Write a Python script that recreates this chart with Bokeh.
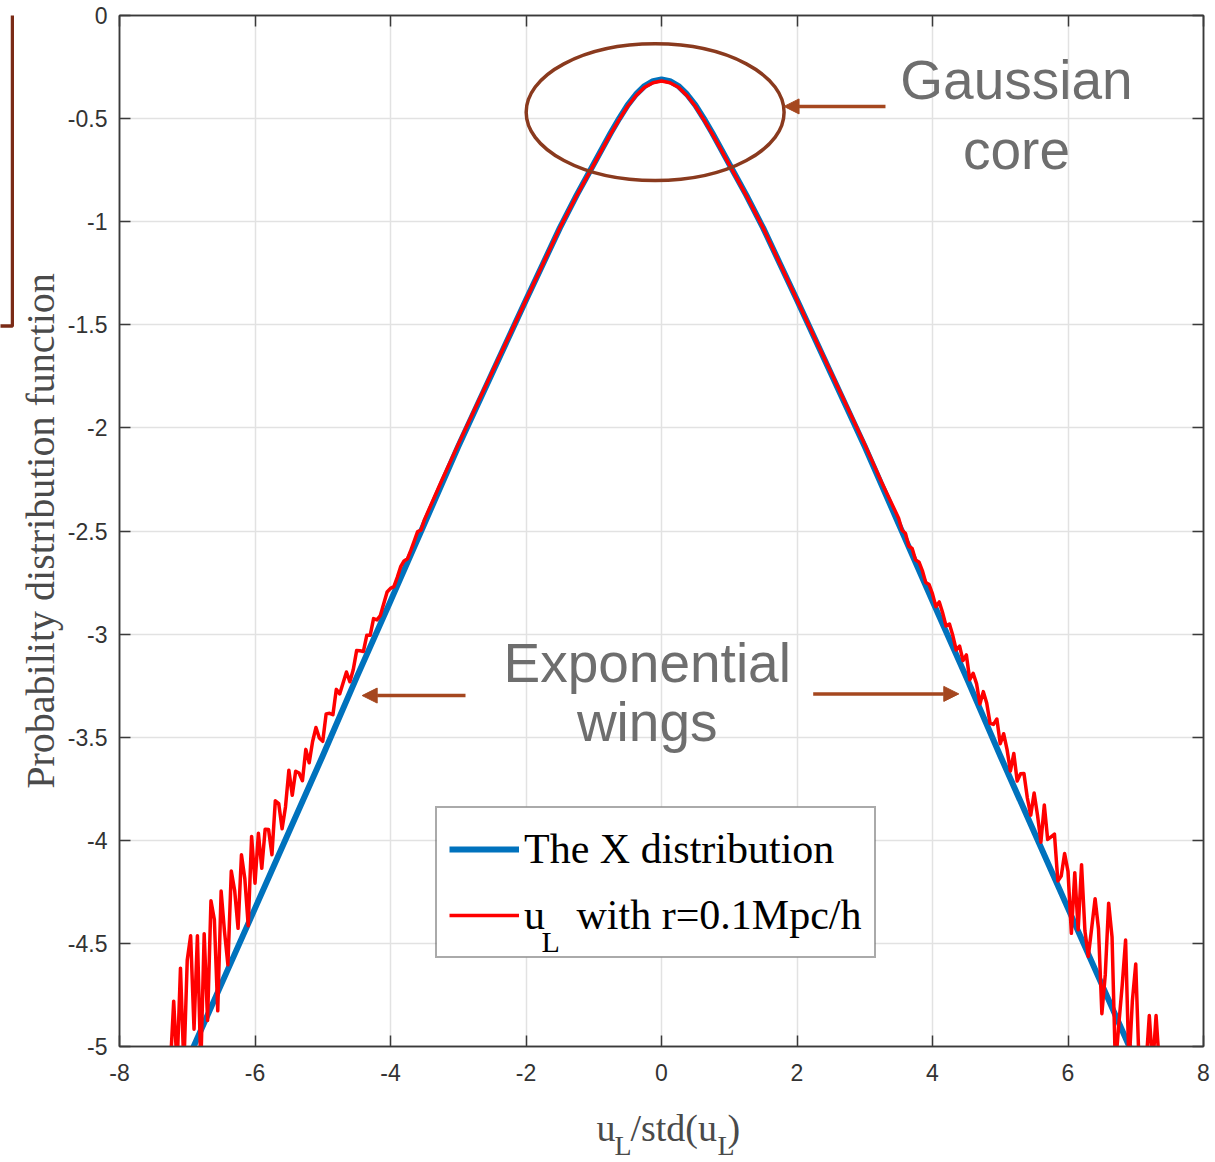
from bokeh.plotting import figure
from bokeh.layouts import column, row
from bokeh.models import (FixedTicker, LinearAxis, Legend, LegendItem, Label,
                          Arrow, NormalHead, CustomJSTickFormatter, Range1d, BoxAnnotation)
from bokeh.core.properties import value
from bokeh.embed import file_html
from bokeh.resources import INLINE

# ---------------- data ----------------
x_ticks = [-8, -6, -4, -2, 0, 2, 4, 6, 8]
y_ticks = [-5, -4.5, -4, -3.5, -3, -2.5, -2, -1.5, -1, -0.5, 0]

# The X distribution (log10 pdf)
blue_x = [-7.0, -6.5, -6.0, -5.5, -5.0, -4.5, -4.0, -3.5, -3.0, -2.5, -2.0, -1.75, -1.5,
          -1.25, -1.0, -0.875, -0.75, -0.625, -0.5, -0.375, -0.25, -0.125, 0.0,
          0.125, 0.25, 0.375, 0.5, 0.625, 0.75, 0.875, 1.0, 1.25, 1.5, 1.75, 2.0,
          2.5, 3.0, 3.5, 4.0, 4.5, 5.0, 5.5, 6.0, 6.5, 7.0]
blue_y = [-5.07, -4.70, -4.33, -3.96, -3.59, -3.21, -2.84, -2.465, -2.09, -1.735, -1.38, -1.205, -1.03,
          -0.87, -0.72, -0.645, -0.57, -0.50, -0.435, -0.382, -0.342, -0.318, -0.31,
          -0.318, -0.342, -0.382, -0.435, -0.50, -0.57, -0.645, -0.72, -0.87, -1.03, -1.205, -1.38,
          -1.735, -2.09, -2.465, -2.84, -3.21, -3.59, -3.96, -4.33, -4.70, -5.07]

# u_L with r = 0.1 Mpc/h (log10 pdf, noisy wings)
red_left_x = [-7.25, -7.2, -7.15, -7.1, -7.05, -7.0, -6.95, -6.9, -6.85, -6.8,
              -6.75, -6.7, -6.65, -6.6, -6.55, -6.5, -6.45, -6.4, -6.35, -6.3,
              -6.25, -6.2, -6.15, -6.1, -6.05, -6.0, -5.95, -5.9, -5.85, -5.8,
              -5.75, -5.7, -5.65, -5.6, -5.55, -5.5, -5.45, -5.4, -5.35, -5.3,
              -5.25, -5.2, -5.15, -5.1, -5.05, -5.0, -4.95, -4.9, -4.85, -4.8,
              -4.75, -4.7, -4.65, -4.6, -4.55, -4.5, -4.45, -4.4, -4.35, -4.3,
              -4.25, -4.2, -4.15, -4.1, -4.05, -4.0, -3.95, -3.9, -3.85, -3.8,
              -3.75, -3.7, -3.65, -3.6, -3.55, -3.5]
red_left_y = [-5.10, -4.78, -5.10, -4.62, -5.10, -4.58, -4.463, -4.916, -4.463, -5.10,
              -4.453, -4.874, -4.293, -4.384, -4.827, -4.246, -4.443, -4.604, -4.149, -4.244,
              -4.427, -4.07, -4.187, -4.414, -3.981, -4.208, -3.966, -4.136, -3.946, -3.948,
              -4.07, -3.808, -3.822, -3.944, -3.838, -3.66, -3.782, -3.665, -3.674, -3.711,
              -3.559, -3.624, -3.521, -3.453, -3.504, -3.52, -3.387, -3.384, -3.391, -3.268,
              -3.29, -3.237, -3.184, -3.231, -3.173, -3.08, -3.081, -3.084, -3.006, -3.006,
              -2.925, -2.931, -2.910, -2.853, -2.796, -2.778, -2.770, -2.725, -2.673, -2.645,
              -2.635, -2.594, -2.549, -2.503, -2.496, -2.446]
red_core_x = [-3.25, -3.0, -2.75, -2.5, -2.25, -2.0, -1.75, -1.5, -1.25, -1.0, -0.875, -0.75,
              -0.625, -0.5, -0.375, -0.25, -0.125, 0.0, 0.125, 0.25, 0.375, 0.5, 0.625,
              0.75, 0.875, 1.0, 1.25, 1.5, 1.75, 2.0, 2.25, 2.5, 2.75, 3.0, 3.25]
red_core_y = [-2.26, -2.08, -1.905, -1.73, -1.555, -1.38, -1.205, -1.03, -0.872, -0.723, -0.648, -0.574,
              -0.505, -0.44, -0.388, -0.348, -0.326, -0.318, -0.326, -0.348, -0.388, -0.44, -0.505,
              -0.574, -0.648, -0.723, -0.872, -1.03, -1.205, -1.38, -1.555, -1.73, -1.905, -2.08, -2.265]
red_right_x = [3.5, 3.55, 3.6, 3.65, 3.7, 3.75, 3.8, 3.85, 3.9, 3.95,
               4.0, 4.05, 4.1, 4.15, 4.2, 4.25, 4.3, 4.35, 4.4, 4.45,
               4.5, 4.55, 4.6, 4.65, 4.7, 4.75, 4.8, 4.85, 4.9, 4.95,
               5.0, 5.05, 5.1, 5.15, 5.2, 5.25, 5.3, 5.35, 5.4, 5.45,
               5.5, 5.55, 5.6, 5.65, 5.7, 5.75, 5.8, 5.85, 5.9, 5.95,
               6.0, 6.05, 6.1, 6.15, 6.2, 6.25, 6.3, 6.35, 6.4, 6.45,
               6.5, 6.55, 6.6, 6.65, 6.7, 6.75, 6.8, 6.85, 6.9, 6.95,
               7.0, 7.05, 7.1, 7.15, 7.2, 7.25, 7.3, 7.35]
red_right_y = [-2.438, -2.496, -2.511, -2.574, -2.585, -2.641, -2.650, -2.692, -2.750, -2.760,
               -2.805, -2.867, -2.844, -2.897, -2.961, -2.951, -3.007, -3.077, -3.058, -3.128,
               -3.101, -3.221, -3.190, -3.240, -3.339, -3.279, -3.334, -3.433, -3.438, -3.412,
               -3.532, -3.483, -3.559, -3.664, -3.579, -3.712, -3.677, -3.676, -3.795, -3.878,
               -3.771, -3.878, -4.009, -3.829, -3.996, -3.983, -3.970, -4.197, -4.173, -4.064,
               -4.151, -4.451, -4.157, -4.434, -4.118, -4.440, -4.564, -4.424, -4.283, -4.429,
               -4.841, -4.653, -4.305, -4.468, -5.10, -4.892, -4.704, -4.484, -5.10, -4.779,
               -4.60, -5.10, -5.10, -5.10, -4.85, -5.10, -4.85, -5.10]

red_x = red_left_x + red_core_x + red_right_x
red_y = red_left_y + red_core_y + red_right_y

series_labels = ["The X distribution", "u\u00a0\u00a0\u00a0with r=0.1Mpc/h"]

# annotation geometry (data units)
ellipse_center = (-0.094, -0.469)
ellipse_size = (3.807, 0.663)
arrows = [(3.306, -0.441, 1.809, -0.441),
          (-2.893, -3.298, -4.418, -3.298),
          (2.239, -3.290, 4.388, -3.290)]
notes = [("Gaussian", 5.24, -0.315), ("core", 5.24, -0.650),
         ("Exponential", -0.211, -3.138), ("wings", -0.211, -3.424)]
legend_box = dict(left=-3.32, right=3.15, top=-3.836, bottom=-4.568)

BROWN = "#8a3a1e"
ARROW = "#a5471f"
AX = "#3a3a3a"
MAIN_H = 1092

# ---------------- main plot ----------------
p = figure(width=1201, height=MAIN_H, x_range=(-8, 8), y_range=(-5, 0),
           output_backend="svg", toolbar_location=None,
           min_border_left=105, min_border_right=12, min_border_top=15,
           min_border_bottom=MAIN_H - 1046, background_fill_color="white",
           border_fill_color="white")
p.outline_line_color = AX
p.outline_line_width = 1.5

fmt = CustomJSTickFormatter(code="return String(Math.round(tick*10)/10);")


def style_axis(ax, labels=True):
    ax.axis_line_color = AX
    ax.axis_line_width = 1.5
    ax.major_tick_line_color = AX
    ax.major_tick_line_width = 1.5
    ax.major_tick_in = 11
    ax.major_tick_out = 0
    ax.minor_tick_line_color = None
    if labels:
        ax.formatter = fmt
        ax.major_label_text_font = "Liberation Sans"
        ax.major_label_text_font_size = "23px"
        ax.major_label_text_color = "#333333"
    else:
        ax.major_label_text_font_size = "0px"
        ax.major_label_text_color = None
        ax.major_label_standoff = 0


xa = p.xaxis[0]
xa.ticker = FixedTicker(ticks=x_ticks)
style_axis(xa)
xa.major_label_standoff = 17

ya = p.yaxis[0]
ya.ticker = FixedTicker(ticks=y_ticks)
style_axis(ya)
ya.major_label_standoff = 12
ya.axis_label = "Probability distribution function"
ya.axis_label_text_font = "Liberation Serif"
ya.axis_label_text_font_size = "40px"
ya.axis_label_text_font_style = "normal"
ya.axis_label_text_color = "#4a4a4a"
ya.axis_label_standoff = 2

top = LinearAxis(ticker=FixedTicker(ticks=x_ticks))
style_axis(top, labels=False)
p.add_layout(top, "above")
right = LinearAxis(ticker=FixedTicker(ticks=y_ticks))
style_axis(right, labels=False)
p.add_layout(right, "right")

p.xgrid.ticker = FixedTicker(ticks=x_ticks)
p.ygrid.ticker = FixedTicker(ticks=y_ticks)
p.grid.grid_line_color = "#e2e2e2"
p.grid.grid_line_width = 1.5

blue = p.line(blue_x, blue_y, line_color="#0072BD", line_width=6, line_join="round")
red = p.line(red_x, red_y, line_color="#FF0000", line_width=3.5, line_join="round")

p.ellipse(x=[ellipse_center[0]], y=[ellipse_center[1]], width=ellipse_size[0],
          height=ellipse_size[1], fill_alpha=0, line_color=BROWN, line_width=3.5)

for xs, ys, xe, ye in arrows:
    p.add_layout(Arrow(end=NormalHead(size=15, fill_color=ARROW, line_color=ARROW),
                       x_start=xs, y_start=ys, x_end=xe, y_end=ye,
                       line_color=ARROW, line_width=3.5))

for txt, tx, ty in notes:
    p.add_layout(Label(x=tx, y=ty, text=txt, text_align="center",
                       text_baseline="alphabetic", text_font="Liberation Sans",
                       text_font_size="55px", text_color="#6e6e6e"))

# white backing of the legend box (the legend itself is transparent so that
# the subscript of u_L can sit on top)
p.add_layout(BoxAnnotation(fill_color="white", fill_alpha=1, line_color=None,
                           **legend_box))
p.add_layout(Label(x=-1.771, y=-4.49, text="L", text_font="Liberation Serif",
                   text_font_size="30px", text_baseline="alphabetic",
                   text_color="black"))

legend = Legend(items=[LegendItem(label=series_labels[0], renderers=[blue]),
                       LegendItem(label=series_labels[1], renderers=[red])],
                location=(316, 88), orientation="vertical")
legend.label_text_font = "Liberation Serif"
legend.label_text_font_size = "42px"
legend.label_text_color = "black"
legend.glyph_width = 70
legend.glyph_height = 58
legend.label_height = 58
legend.label_standoff = 5
legend.padding = 12
legend.spacing = 8
legend.margin = 0
legend.border_line_color = "#555555"
legend.border_line_width = 2
legend.background_fill_alpha = 0
p.add_layout(legend)

# ---------------- left strip: partial brown frame ----------------
strip = figure(width=14, height=MAIN_H, x_range=(0, 14), y_range=(MAIN_H, 0),
               output_backend="svg", toolbar_location=None,
               x_axis_type=None, y_axis_type=None, min_border=0,
               outline_line_color=None, background_fill_color="white",
               border_fill_color="white")
strip.grid.visible = False
strip.quad(left=[-20], right=[12], top=[-20], bottom=[329], fill_alpha=0,
           line_color="#7b2b16", line_width=3.5)

# ---------------- bottom strip: x axis label u_L /std(u_L) ----------------
XL_H = 1162 - MAIN_H
xlab = figure(width=1215, height=XL_H, x_range=p.x_range, y_range=Range1d(XL_H, 0),
              output_backend="svg", toolbar_location=None,
              x_axis_type=None, y_axis_type=None, min_border_left=119,
              min_border_right=12, min_border_top=0, min_border_bottom=0,
              outline_line_color=None, background_fill_color="white",
              border_fill_color="white")
xlab.grid.visible = False
xlabel_main = dict(x=[-0.959, -0.458, 0.974], y=[35, 35, 35], text=["u", "/std(u", ")"])
xlabel_sub = dict(x=[-0.694, 0.827], y=[53, 53], text=["L", "L"])
xlab.text(x="x", y="y", text="text", source=xlabel_main, text_font=value("Liberation Serif"),
          text_font_size="38px", text_baseline="alphabetic", text_color="#4a4a4a")
xlab.text(x="x", y="y", text="text", source=xlabel_sub, text_font=value("Liberation Serif"),
          text_font_size="28px", text_baseline="alphabetic", text_color="#4a4a4a")

layout = column(row(strip, p), xlab)
open("out.html", "w").write(file_html(layout, INLINE))
